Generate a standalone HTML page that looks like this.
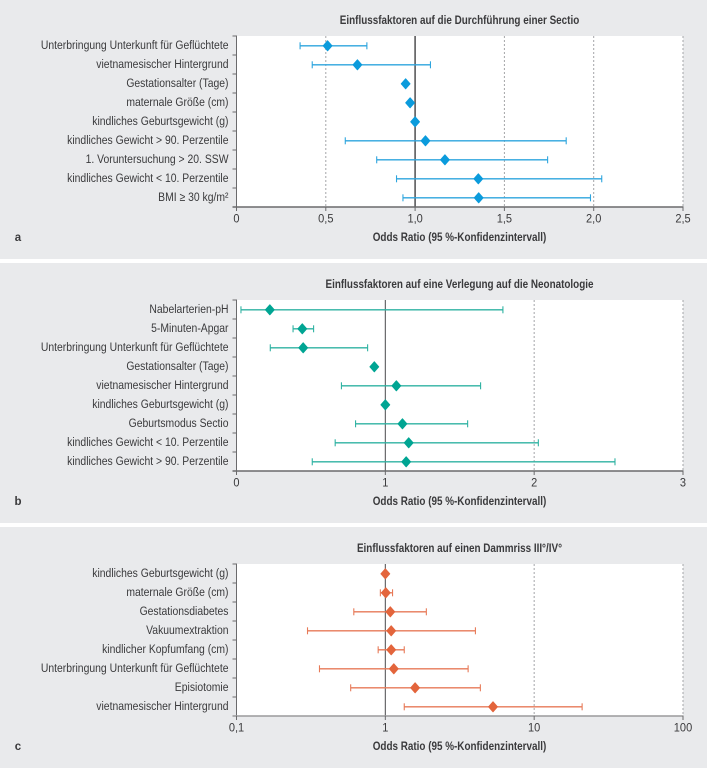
<!DOCTYPE html>
<html lang="de">
<head>
<meta charset="utf-8">
<title>Einflussfaktoren – Odds Ratios</title>
<style>
html,body{margin:0;padding:0;background:#fff;width:707px;height:768px;overflow:hidden}
svg{display:block}
text{font-family:"Liberation Sans",sans-serif;fill:#3a3a3c}
</style>
</head>
<body>
<svg id="figure" xmlns="http://www.w3.org/2000/svg" width="707" height="768" viewBox="0 0 707 768"></svg>
<script>
// Panel a
const labelsA = ["Unterbringung Unterkunft für Geflüchtete","vietnamesischer Hintergrund","Gestationsalter (Tage)","maternale Größe (cm)","kindliches Geburtsgewicht (g)","kindliches Gewicht > 90. Perzentile","1. Voruntersuchung > 20. SSW","kindliches Gewicht < 10. Perzentile","BMI ≥ 30 kg/m²"];
const orA = [0.51,0.677,0.947,0.972,1.0,1.058,1.167,1.354,1.356];
const lowA = [0.356,0.424,0.947,0.972,1.0,0.609,0.785,0.896,0.932];
const highA = [0.73,1.086,0.947,0.972,1.0,1.846,1.742,2.045,1.982];
const ticksA = [0,0.5,1,1.5,2,2.5];
const tickLabelsA = ["0","0,5","1,0","1,5","2,0","2,5"];

// Panel b
const labelsB = ["Nabelarterien-pH","5-Minuten-Apgar","Unterbringung Unterkunft für Geflüchtete","Gestationsalter (Tage)","vietnamesischer Hintergrund","kindliches Geburtsgewicht (g)","Geburtsmodus Sectio","kindliches Gewicht < 10. Perzentile","kindliches Gewicht > 90. Perzentile"];
const orB = [0.224,0.442,0.448,0.926,1.074,1.0,1.115,1.157,1.14];
const lowB = [0.03,0.38,0.227,0.926,0.705,1.0,0.80,0.663,0.509];
const highB = [1.79,0.518,0.881,0.926,1.64,1.0,1.553,2.028,2.543];
const ticksB = [0,1,2,3];
const tickLabelsB = ["0","1","2","3"];

// Panel c
const labelsC = ["kindliches Geburtsgewicht (g)","maternale Größe (cm)","Gestationsdiabetes","Vakuumextraktion","kindlicher Kopfumfang (cm)","Unterbringung Unterkunft für Geflüchtete","Episiotomie","vietnamesischer Hintergrund"];
const orC = [1.0,1.007,1.08,1.095,1.095,1.14,1.585,5.29];
const lowC = [1.0,0.926,0.614,0.30,0.895,0.361,0.585,1.34];
const highC = [1.0,1.118,1.886,4.03,1.34,3.6,4.35,21];
const ticksC = [0.1,1,10,100];
const tickLabelsC = ["0,1","1","10","100"];

const NS = "http://www.w3.org/2000/svg";
const svg = document.getElementById("figure");

function make(tag, attrs, parent, name, text) {
  const el = document.createElementNS(NS, tag);
  for (const k in attrs) el.setAttribute(k, attrs[k]);
  
  
  if (text !== undefined) el.textContent = text;
  parent.appendChild(el);
  return el;
}

function label(parent, name, x, y, str, size, weight, anchor, sx) {
  const g = make("text", {
    transform: "translate(" + x + " " + y + ") scale(" + sx + " 1)",
    "font-size": size, "font-weight": weight, "text-anchor": anchor
  }, parent, name, str);
  return g;
}

function drawPanel(cfg) {
  const g = make("g", {}, svg, "panel-" + cfg.id);
  make("rect", {x:0, y:cfg.panelTop, width:707, height:cfg.panelH, fill:"#e9eaec"}, g, "panel-background-" + cfg.id);
  make("rect", {x:cfg.left, y:cfg.top, width:cfg.right-cfg.left, height:cfg.bottom-cfg.top, fill:"#fff"}, g, "plot-area-" + cfg.id);

  const xScale = v => {
    const t = cfg.log
      ? (Math.log10(v) - Math.log10(cfg.ticks[0])) / (Math.log10(cfg.ticks[cfg.ticks.length-1]) - Math.log10(cfg.ticks[0]))
      : (v - cfg.ticks[0]) / (cfg.ticks[cfg.ticks.length-1] - cfg.ticks[0]);
    return cfg.left + t * (cfg.right - cfg.left);
  };
  const rowH = (cfg.bottom - cfg.top) / cfg.labels.length;
  const yScale = i => cfg.top + rowH * (i + 0.5);

  // vertical gridlines, reference line at 1
  cfg.ticks.forEach((t, i) => {
    const x = xScale(t);
    if (i === 0) return;
    if (t === 1) return;
    make("line", {x1:x, x2:x, y1:cfg.top, y2:cfg.bottom, stroke:"#a4a5a8", "stroke-width":1, "stroke-dasharray":"2 2"}, g, "gridline-" + cfg.id + "-" + i);
  });

  const refX = xScale(1);
  make("line", {x1:refX, x2:refX, y1:cfg.top, y2:cfg.bottom, stroke:"#5a5a5c", "stroke-width":cfg.refWidth}, g, "reference-line-" + cfg.id);

  // y axis with ticks
  make("line", {x1:cfg.left, x2:cfg.left, y1:cfg.top-0.5, y2:cfg.bottom, stroke:"#6a6a6c", "stroke-width":1}, g, "y-axis-" + cfg.id);
  for (let i = 0; i <= cfg.labels.length; i++) {
    const y = cfg.top + rowH * i;
    make("line", {x1:cfg.left-4, x2:cfg.left, y1:y, y2:y, stroke:"#6a6a6c", "stroke-width":1}, g, "y-tick-" + cfg.id + "-" + i);
  }

  // x axis with ticks
  make("line", {x1:cfg.left-4, x2:cfg.right+0.5, y1:cfg.bottom, y2:cfg.bottom, stroke:cfg.axisColor, "stroke-width":1.4}, g, "x-axis-" + cfg.id);
  cfg.ticks.forEach((t, i) => {
    const x = xScale(t);
    make("line", {x1:x, x2:x, y1:cfg.bottom, y2:cfg.bottom+4, stroke:"#6a6a6c", "stroke-width":1}, g, "x-tick-" + cfg.id + "-" + i);
    label(g, "x-tick-label-" + cfg.id + "-" + i, x, cfg.bottom + 15.5, cfg.tickLabels[i], 12, "normal", "middle", 0.92);
  });

  // category labels
  cfg.labels.forEach((str, i) => {
    label(g, "category-label-" + cfg.id + "-" + i, 228.5, yScale(i) + 3.5, str, 12, "normal", "end", 0.866);
  });

  // confidence intervals and markers
  cfg.or.forEach((v, i) => {
    const y = yScale(i) + 0.3;
    const x0 = xScale(cfg.low[i]), x1 = xScale(cfg.high[i]), xm = xScale(v);
    if (cfg.high[i] > cfg.low[i]) {
      make("line", {x1:x0, x2:x1, y1:y, y2:y, stroke:cfg.lineColor, "stroke-width":1.3}, g, "ci-line-" + cfg.id + "-" + i);
      make("line", {x1:x0, x2:x0, y1:y-3.5, y2:y+3.5, stroke:cfg.lineColor, "stroke-width":1.1}, g, "ci-low-cap-" + cfg.id + "-" + i);
      make("line", {x1:x1, x2:x1, y1:y-3.5, y2:y+3.5, stroke:cfg.lineColor, "stroke-width":1.1}, g, "ci-high-cap-" + cfg.id + "-" + i);
    }
    const pts = [[xm, y-5],[xm+4.4, y],[xm, y+5],[xm-4.4, y]].map(p => p.join(",")).join(" ");
    make("polygon", {points:pts, fill:cfg.markerColor, stroke:cfg.markerColor, "stroke-width":1, "stroke-linejoin":"round"}, g, "odds-ratio-marker-" + cfg.id + "-" + i);
  });

  label(g, "chart-title-" + cfg.id, cfg.titleX, cfg.titleY, cfg.title, 11.5, "bold", "middle", 0.86);
  label(g, "x-axis-title-" + cfg.id, 459.5, cfg.xTitleY, "Odds Ratio (95 %-Konfidenzintervall)", 11.5, "bold", "middle", 0.86);
  label(g, "panel-letter-" + cfg.id, 18, cfg.xTitleY, cfg.id, 11.5, "bold", "middle", 1);
}

drawPanel({id:"a", panelTop:0, panelH:259, left:236.5, right:683, top:36, bottom:207, log:false,
  labels:labelsA, or:orA, low:lowA, high:highA, ticks:ticksA, tickLabels:tickLabelsA,
  lineColor:"#2ea5de", markerColor:"#0b9bdc", refWidth:1.6, axisColor:"#6a6a6c",
  title:"Einflussfaktoren auf die Durchführung einer Sectio", titleX:459.5, titleY:24, xTitleY:241});

drawPanel({id:"b", panelTop:263, panelH:260, left:236.5, right:683, top:300, bottom:471, log:false,
  labels:labelsB, or:orB, low:lowB, high:highB, ticks:ticksB, tickLabels:tickLabelsB,
  lineColor:"#2fb2a2", markerColor:"#00a593", refWidth:1.1, axisColor:"#6a6a6c",
  title:"Einflussfaktoren auf eine Verlegung auf die Neonatologie", titleX:459.5, titleY:288, xTitleY:505});

drawPanel({id:"c", panelTop:527, panelH:241, left:236.5, right:683, top:564, bottom:716, log:true,
  labels:labelsC, or:orC, low:lowC, high:highC, ticks:ticksC, tickLabels:tickLabelsC,
  lineColor:"#e77a58", markerColor:"#e3653c", refWidth:1.1, axisColor:"#9a9a9c",
  title:"Einflussfaktoren auf einen Dammriss III°/IV°", titleX:459.5, titleY:552, xTitleY:750});
</script>
</body>
</html>
